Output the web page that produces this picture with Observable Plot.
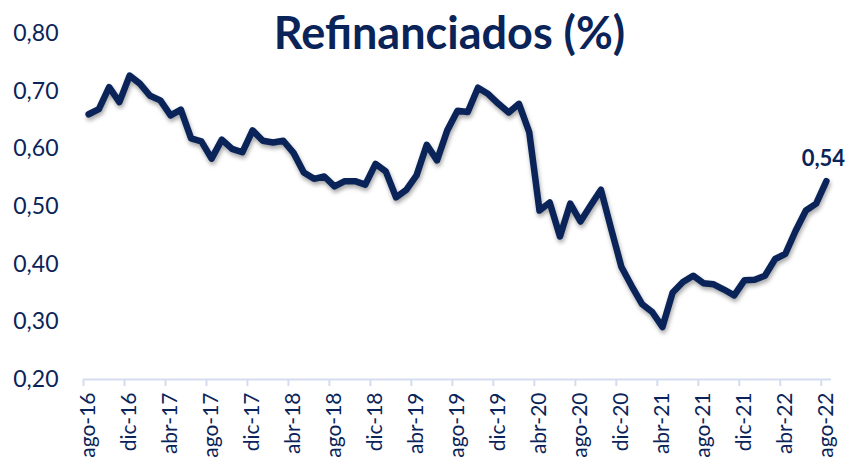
<!DOCTYPE html>
<html>
<head>
<meta charset="utf-8">
<script src="https://cdn.jsdelivr.net/npm/d3@7"></script>
<script src="https://cdn.jsdelivr.net/npm/@observablehq/plot@0.6"></script>
<style>
  html, body { margin: 0; padding: 0; background: #fff; }
  #chart { width: 852px; height: 462px; }
</style>
</head>
<body>
<div id="chart"></div>
<script>
const title = "Refinanciados (%)";
const tickLabels = ["ago-16","dic-16","abr-17","ago-17","dic-17","abr-18","ago-18","dic-18","abr-19","ago-19","dic-19","abr-20","ago-20","dic-20","abr-21","ago-21","dic-21","abr-22","ago-22"];
const yTicks = [0.2, 0.3, 0.4, 0.5, 0.6, 0.7, 0.8];
// monthly values, ago-16 .. ago-22
const values = [
  0.660, 0.669, 0.707, 0.681, 0.727, 0.713, 0.692, 0.684, 0.658, 0.668,
  0.618, 0.613, 0.583, 0.616, 0.600, 0.594, 0.632, 0.614, 0.611, 0.614,
  0.593, 0.559, 0.548, 0.552, 0.535, 0.544, 0.544, 0.538, 0.574, 0.561,
  0.516, 0.529, 0.554, 0.607, 0.580, 0.632, 0.666, 0.664, 0.706, 0.695,
  0.678, 0.663, 0.678, 0.629, 0.493, 0.507, 0.448, 0.505, 0.474, 0.502,
  0.529, 0.461, 0.395, 0.362, 0.331, 0.317, 0.291, 0.351, 0.369, 0.380,
  0.367, 0.365, 0.356, 0.346, 0.372, 0.373, 0.380, 0.409, 0.418, 0.458,
  0.493, 0.505, 0.544
];

const navy = "#0a2459";
const axisColor = "#d3ddef";
const fmt = d => d.toFixed(2).replace(".", ",");
const n = values.length;
const tickIdx = tickLabels.map((_, k) => k * 4);
const data = values.map((v, i) => ({i: i + 0.5, v}));
const last = [data[n - 1]];

const chart = Plot.plot({
  width: 852,
  height: 462,
  marginLeft: 83,
  marginRight: 21,
  marginTop: 33,
  marginBottom: 83,
  style: {fontFamily: "Lato, 'Open Sans', sans-serif", color: navy, background: "#fff"},
  x: {type: "linear", domain: [0, n], axis: null},
  y: {domain: [0.2, 0.8], axis: null},
  marks: [
    Plot.axisY({ticks: yTicks, tickSize: 0, tickPadding: 25, tickFormat: fmt, fontSize: 23, fill: navy, label: null}),
    Plot.ruleY([0.2], {stroke: axisColor, strokeWidth: 2}),
    Plot.axisX({ticks: tickIdx, tickSize: 7, tickFormat: () => "", stroke: axisColor, strokeWidth: 2, label: null}),
    Plot.axisX({ticks: tickIdx.map(t => t + 0.5), tickSize: 0, tickPadding: 13, tickRotate: -90,
      tickFormat: d => tickLabels[Math.round((d - 0.5) / 4)], fontSize: 21, fill: navy, label: null}),
    Plot.line(data, {x: "i", y: "v", stroke: navy, strokeWidth: 6.5, strokeLinejoin: "round", strokeLinecap: "round"}),
    Plot.text(last, {x: "i", y: "v", text: d => fmt(d.v), dy: -22, dx: -3, fontSize: 22, fontWeight: "bold", fill: navy}),
    Plot.text([title], {frameAnchor: "top", dx: -8, dy: 1, fontSize: 45, fontWeight: "bold", fill: navy, lineAnchor: "middle"})
  ]
});
d3.select(chart).selectAll("g[aria-label='line'] path").style("filter", "drop-shadow(1px 3px 2px rgba(0,0,0,0.35))");
document.getElementById("chart").appendChild(chart);
</script>
</body>
</html>
